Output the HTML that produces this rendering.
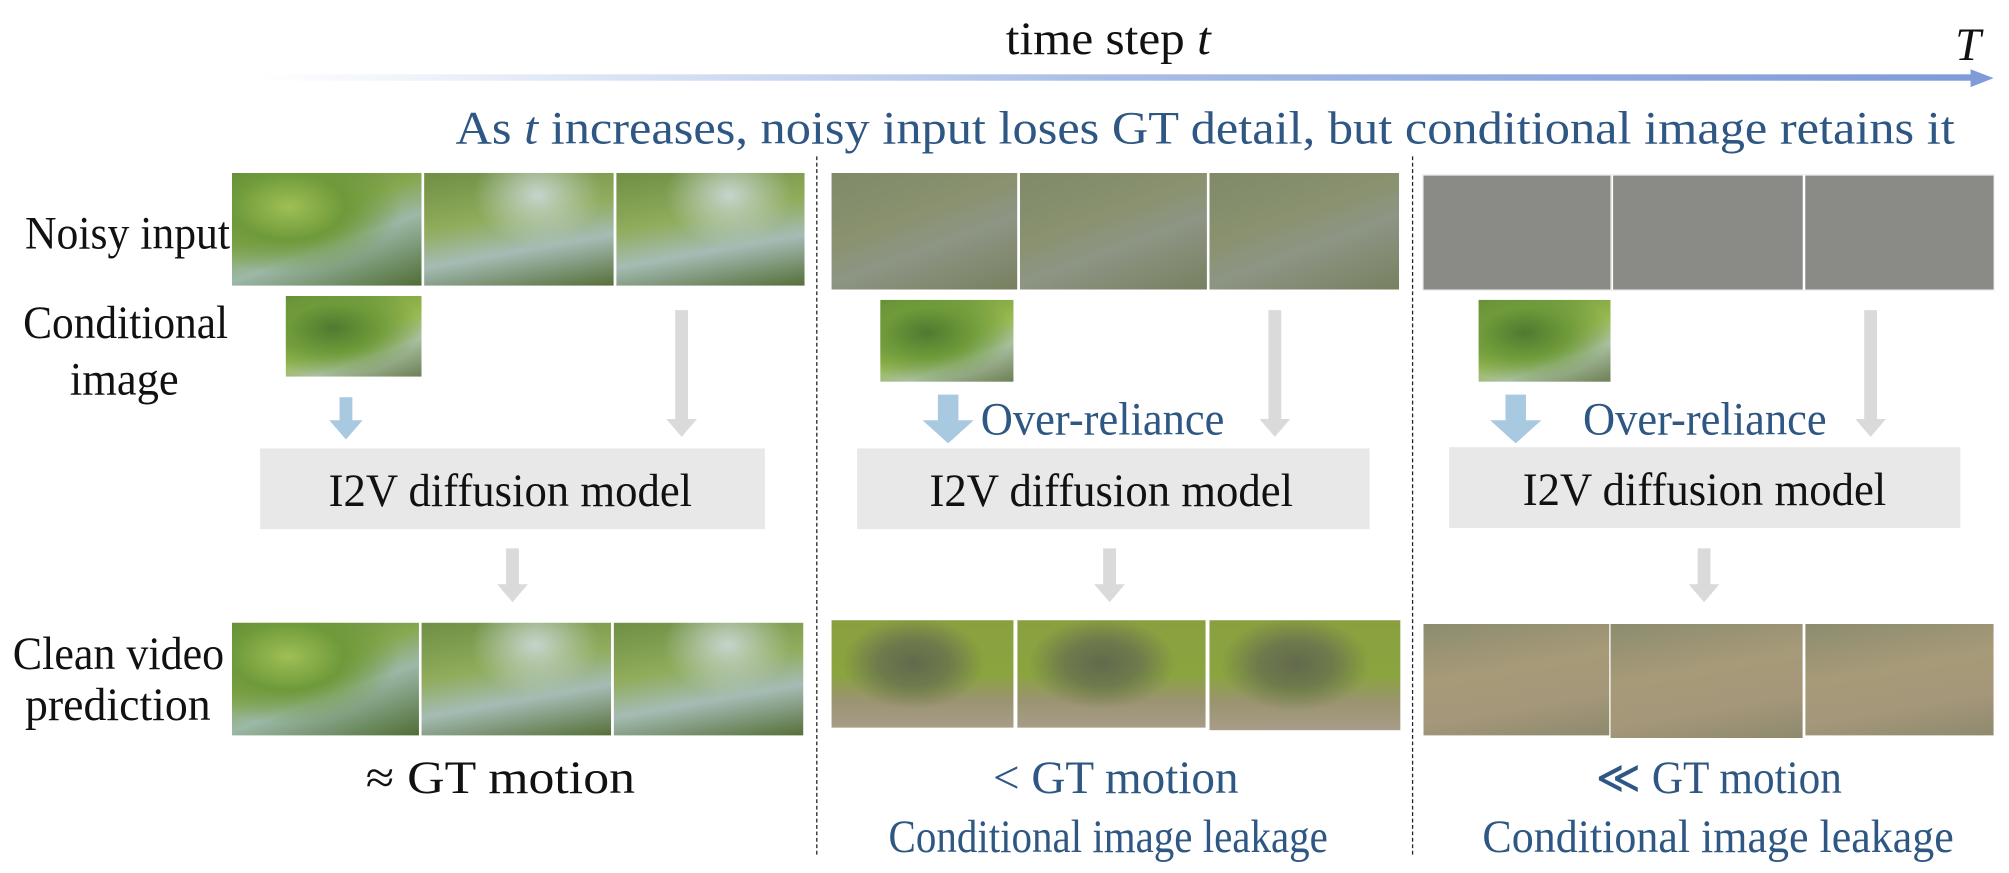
<!DOCTYPE html>
<html><head><meta charset="utf-8"><style>
body{margin:0;background:#fff;width:2009px;height:873px;overflow:hidden}
#s{position:absolute;left:0;top:0;width:1568px;height:681px;transform:scale(1.28125);transform-origin:0 0;font-family:"Liberation Serif",serif;}
.a{position:absolute}
.t{position:absolute;font-size:36px;line-height:1;white-space:nowrap;color:#111;transform-origin:50% 50%}
.b{color:#2f5783}
.img{position:absolute;border:1px solid #fff}
.g1{background:radial-gradient(ellipse at 30% 30%,#9fbf55 0,#6e9a3a 30%,transparent 60%),linear-gradient(160deg,#5d7e3a,#86a850 40%,#9cb8a8 60%,#4f6e34)}
.g2{background:radial-gradient(ellipse at 60% 20%,#c6d4cc 0,transparent 40%),linear-gradient(170deg,#6f8f45,#90ac5c 40%,#a5bcb5 65%,#566f38)}
.n2{background:linear-gradient(160deg,#7f8a68,#8a9270 40%,#8d9585 60%,#78805f)}
.n3{background:#8a8a86}
.c1{background:radial-gradient(ellipse at 35% 40%,#4f7a30 0,#6e9a3a 35%,transparent 70%),linear-gradient(160deg,#5f8a35,#98b950 50%,#a9c0a0 70%,#6d7f55)}
.p2{background:radial-gradient(ellipse at 45% 40%,#626a4c 0,#6f7a4c 25%,transparent 50%),linear-gradient(180deg,#8aa040,#8aa43e 50%,#9a9470 75%,#a89c88)}
.p3{background:linear-gradient(170deg,#8c8c70,#a69a78 40%,#a5977a 70%,#8e8a6e)}
.box{position:absolute;background:#e8e8e8}
.dash{position:absolute;width:0;border-left:1.5px dashed #222}
</style></head><body>
<div id="s">
<div class="a" style="left:200px;top:58px;width:1340px;height:5px;background:linear-gradient(90deg,#fff,#a8bde6 50%,#7f9bd8)"></div>
<div class="a" style="left:1538px;top:54px;width:0;height:0;border-top:7px solid transparent;border-bottom:7px solid transparent;border-left:18px solid #7f9bd8"></div>
<div class="dash" style="left:637px;top:122px;height:545px"></div>
<div class="dash" style="left:1102px;top:122px;height:545px"></div>
<div class="img g1" style="left:180px;top:134px;width:148px;height:88px"></div>
<div class="img g2" style="left:330px;top:134px;width:148px;height:88px"></div>
<div class="img g2" style="left:480px;top:134px;width:147px;height:88px"></div>
<div class="img n2" style="left:648px;top:134px;width:145px;height:91px"></div>
<div class="img n2" style="left:795px;top:134px;width:146px;height:91px"></div>
<div class="img n2" style="left:943px;top:134px;width:148px;height:91px"></div>
<div class="img n3" style="left:1110px;top:136px;width:146px;height:89px"></div>
<div class="img n3" style="left:1258px;top:136px;width:148px;height:89px"></div>
<div class="img n3" style="left:1408px;top:136px;width:147px;height:89px"></div>
<div class="img c1" style="left:222px;top:230px;width:106px;height:63px"></div>
<div class="img c1" style="left:686px;top:233px;width:104px;height:64px"></div>
<div class="img c1" style="left:1153px;top:233px;width:103px;height:64px"></div>
<svg class="a" style="left:0;top:0" width="1568" height="681">
<g fill="#a9c9e0">
<path d="M265 310h10v18h8l-13 15l-13-15h8z"/>
<path d="M732 308h16v20h12l-20 18l-20-18h12z"/>
<path d="M1175 308h16v20h12l-20 18l-20-18h12z"/>
</g>
<g fill="#dadada">
<path d="M527 242h10v85h7l-12 14l-12-14h7z"/>
<path d="M990 242h10v85h7l-12 14l-12-14h7z"/>
<path d="M1455 242h10v85h7l-12 14l-12-14h7z"/>
<path d="M395 428h10v28h7l-12 14l-12-14h7z"/>
<path d="M861 428h10v28h7l-12 14l-12-14h7z"/>
<path d="M1325 428h10v28h7l-12 14l-12-14h7z"/>
</g>
</svg>
<div class="box" style="left:203px;top:350px;width:394px;height:63px"></div>
<div class="box" style="left:669px;top:350px;width:400px;height:63px"></div>
<div class="box" style="left:1131px;top:349px;width:399px;height:63px"></div>
<div class="img g1" style="left:180px;top:485px;width:146px;height:88px"></div>
<div class="img g2" style="left:328px;top:485px;width:148px;height:88px"></div>
<div class="img g2" style="left:478px;top:485px;width:148px;height:88px"></div>
<div class="img p2" style="left:648px;top:483px;width:142px;height:84px"></div>
<div class="img p2" style="left:793px;top:483px;width:147px;height:84px"></div>
<div class="img p2" style="left:943px;top:483px;width:149px;height:86px"></div>
<div class="img p3" style="left:1110px;top:486px;width:146px;height:87px"></div>
<div class="img p3" style="left:1256px;top:486px;width:150px;height:89px"></div>
<div class="img p3" style="left:1408px;top:486px;width:147px;height:87px"></div>
<div class="t" data-x="865" data-y="30" data-w="160">time step <i>t</i></div>
<div class="t" data-x="1536" data-y="35" data-w="20"><i>T</i></div>
<div class="t b" data-x="940" data-y="100" data-w="1170">As <i>t</i> increases, noisy input loses GT detail, but conditional image retains it</div>
<div class="t" data-x="99" data-y="182" data-w="160">Noisy input</div>
<div class="t" data-x="98" data-y="252" data-w="160">Conditional</div>
<div class="t" data-x="97" data-y="296" data-w="85">image</div>
<div class="t" data-x="92" data-y="510" data-w="165">Clean video</div>
<div class="t" data-x="92" data-y="550" data-w="145">prediction</div>
<div class="t b" data-x="860" data-y="327" data-w="190">Over-reliance</div>
<div class="t b" data-x="1330" data-y="327" data-w="190">Over-reliance</div>
<div class="t" data-x="398" data-y="383" data-w="284">I2V diffusion model</div>
<div class="t" data-x="867" data-y="383" data-w="284">I2V diffusion model</div>
<div class="t" data-x="1330" data-y="382" data-w="284">I2V diffusion model</div>
<div class="t" data-x="390" data-y="607" data-w="210">≈ GT motion</div>
<div class="t b" data-x="871" data-y="607" data-w="192">&lt; GT motion</div>
<div class="t b" data-x="865" data-y="653" data-w="343">Conditional image leakage</div>
<div class="t b" data-x="1341" data-y="607" data-w="192">≪ GT motion</div>
<div class="t b" data-x="1341" data-y="653" data-w="368">Conditional image leakage</div>
</div>
<script>
document.querySelectorAll('.t').forEach(function(el){
  var w=el.offsetWidth,h=el.offsetHeight;
  var k=parseFloat(el.dataset.w)/w;
  el.style.left=(parseFloat(el.dataset.x)-w/2)+'px';
  el.style.top=(parseFloat(el.dataset.y)-h/2)+'px';
  el.style.transform='scaleX('+k+')';
});
</script>
</body></html>
